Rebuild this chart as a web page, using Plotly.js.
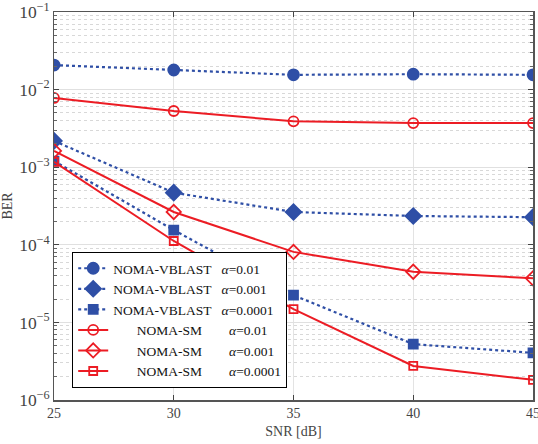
<!DOCTYPE html>
<html><head><meta charset="utf-8">
<script src="https://cdn.plot.ly/plotly-3.0.1.min.js"></script>
<style>body{margin:0;background:#fff}#c{width:538px;height:444px}</style>
</head><body><div id="c"></div><script>
const snr = [25, 30, 35, 40, 45];
const vblast_001 = [0.0207, 0.0179, 0.0155, 0.0158, 0.0155];
const vblast_0001 = [0.00218, 0.00047, 0.000265, 0.000235, 0.000227];
const vblast_00001 = [0.0012, 0.000155, 0.0000224, 0.00000525, 0.00000405];
const sm_001 = [0.0078, 0.0053, 0.0039, 0.0037, 0.0037];
const sm_0001 = [0.00162, 0.000265, 0.000081, 0.000045, 0.000037];
const sm_00001 = [0.00117, 0.000112, 0.0000148, 0.00000275, 0.00000182];
const names = [
  "NOMA-VBLAST\u00a0\u00a0\u00a0<i>α</i>=0.01",
  "NOMA-VBLAST\u00a0\u00a0\u00a0<i>α</i>=0.001",
  "NOMA-VBLAST\u00a0\u00a0\u00a0<i>α</i>=0.0001",
  "\u00a0\u00a0\u00a0\u00a0\u00a0\u00a0\u00a0NOMA-SM\u00a0\u00a0\u00a0\u00a0\u00a0\u00a0\u00a0\u00a0<i>α</i>=0.01",
  "\u00a0\u00a0\u00a0\u00a0\u00a0\u00a0\u00a0NOMA-SM\u00a0\u00a0\u00a0\u00a0\u00a0\u00a0\u00a0\u00a0<i>α</i>=0.001",
  "\u00a0\u00a0\u00a0\u00a0\u00a0\u00a0\u00a0NOMA-SM\u00a0\u00a0\u00a0\u00a0\u00a0\u00a0\u00a0\u00a0<i>α</i>=0.0001"
];
const blue = "#2F4FA6", red = "#EC1C24";
function tr(y, name, color, dash, sym, size) {
  return {x: snr, y: y, name: name, type: "scatter", mode: "lines+markers",
    line: {color: color, width: dash === "dot" ? 2.2 : 2, dash: dash},
    marker: {symbol: sym, size: size, color: color, line: {color: color, width: 1.8}}};
}
const data = [
  tr(vblast_001, names[0], blue, "dot", "circle", 11),
  tr(vblast_0001, names[1], blue, "dot", "diamond", 12),
  tr(vblast_00001, names[2], blue, "dot", "square", 9),
  tr(sm_001, names[3], red, "solid", "circle-open", 10),
  tr(sm_0001, names[4], red, "solid", "diamond-open", 11),
  tr(sm_00001, names[5], red, "solid", "square-open", 8)
];
const fnt = {family: "Liberation Serif, Times New Roman, serif", size: 14, color: "#444"};
const layout = {
  width: 538, height: 444,
  margin: {l: 54, r: 5, t: 12, b: 44},
  paper_bgcolor: "#fff", plot_bgcolor: "#fff",
  font: fnt,
  showlegend: true,
  legend: {x: 0.038, y: 0.031, xanchor: "left", yanchor: "bottom",
    bgcolor: "#fff", bordercolor: "#000", borderwidth: 1,
    font: {family: fnt.family, size: 13.5, color: "#111"},
    tracegroupgap: 0, itemwidth: 30},
  xaxis: {range: [25, 45], tickvals: [25, 30, 35, 40, 45],
    ticks: "inside", ticklen: 5, tickcolor: "#444", mirror: "ticks",
    showline: true, linecolor: "#555", linewidth: 1.5,
    showgrid: true, gridcolor: "#e3e3e3", gridwidth: 1, zeroline: false,
    ticklabeloverflow: "allow",
    title: {text: "SNR [dB]", font: fnt, standoff: 6},
    tickfont: fnt},
  yaxis: {type: "log", range: [-6, -1], dtick: 1, exponentformat: "power",
    ticks: "inside", ticklen: 5, tickcolor: "#444", mirror: "ticks",
    showline: true, linecolor: "#555", linewidth: 1.5,
    showgrid: true, gridcolor: "#e0e0e0", gridwidth: 1, zeroline: false,
    ticklabeloverflow: "allow",
    minor: {ticks: "inside", ticklen: 3, tickcolor: "#666", showgrid: true,
      gridcolor: "#d8d8d8", griddash: "dot", gridwidth: 1},
    title: {text: "BER", font: fnt, standoff: 6},
    tickfont: fnt}
};
Plotly.newPlot("c", data, layout, {staticPlot: true});
</script></body></html>
